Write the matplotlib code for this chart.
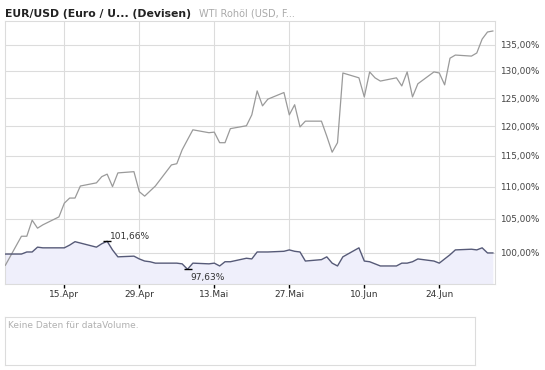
#!/usr/bin/env python3
# EUR/USD vs. WTI crude, relative performance (log scale), 3 months 2008.

import matplotlib
matplotlib.use("Agg")
import matplotlib.pyplot as plt
import matplotlib.dates as mdates
from matplotlib.ticker import FixedLocator, FixedFormatter, NullLocator
import pandas as pd

# trading days shown in the chart
dates = pd.bdate_range("2008-04-04", "2008-07-04")

# relative performance in percent
eur_usd = [
    99.8, 99.8, 100.1, 100.1, 100.8, 100.7, 100.7, 100.7, 101.1, 101.6,
    101.4, 100.8, 101.3, 101.66, 100.4, 99.4, 99.5, 99.1, 98.8,
    98.7, 98.5, 98.5, 98.5, 98.4, 97.63, 98.5, 98.4, 98.5, 98.1,
    98.7, 98.7, 99.2, 99.1, 100.1, 100.1, 100.1, 100.2, 100.4, 100.2,
    100.1, 98.8,
    99.0, 99.4, 98.5, 98.1, 99.4, 100.7, 98.8, 98.7, 98.4, 98.1,
    98.1, 98.5, 98.5, 98.7, 99.1, 98.8, 98.5, 99.1, 99.7, 100.4, 100.5,
    100.4, 100.7, 99.96, 99.96,
]
wti = [
    98.2, 102.4, 102.4, 104.8, 103.6, 104.1, 105.3, 107.4, 108.2, 108.2,
    110.1, 110.6, 111.6, 112.0, 110.0, 112.2, 112.4, 109.2, 108.5,
    109.3, 110.1, 113.5, 113.7, 116.0, 117.7, 119.4, 118.9, 119.0, 117.2,
    117.2, 119.6, 120.1, 122.0, 126.3, 123.6, 124.8, 126.0, 122.0, 123.8,
    119.9, 120.9,
    120.9, 118.3, 115.6, 117.2, 129.6, 128.7, 125.2, 129.8, 128.7, 128.1,
    128.7, 127.2, 129.8, 125.2, 127.6, 129.8, 129.6, 127.4, 132.4, 133.0,
    132.8,
    133.4, 136.1, 137.5, 137.7,
]

y_ticks = [100, 105, 110, 115, 120, 125, 130, 135]
y_labels = ["100,00%", "105,00%", "110,00%", "115,00%",
            "120,00%", "125,00%", "130,00%", "135,00%"]
x_ticks = ["2008-04-15", "2008-04-29", "2008-05-13",
           "2008-05-27", "2008-06-10", "2008-06-24"]
x_labels = ["15.Apr", "29.Apr", "13.Mai", "27.Mai", "10.Jun", "24.Jun"]

title_main = "EUR/USD (Euro / U... (Devisen)"
title_other = "WTI Rohöl (USD, F..."
no_volume = "Keine Daten für dataVolume."

W, H = 545, 370
GRID = "#dcdcdc"
FONT = "DejaVu Sans"

fig = plt.figure(figsize=(W / 100, H / 100), dpi=100)

# main price panel
ax = fig.add_axes([5 / W, 1 - 284 / H, 490 / W, 263 / H])
ax.set_yscale("log")
ax.set_ylim(95.58, 139.7)
x0 = mdates.date2num(pd.Timestamp("2008-04-15")) - 59.3 / 5.357
x1 = mdates.date2num(pd.Timestamp("2008-04-15")) + 430.7 / 5.357
ax.set_xlim(x0, x1)

xd = mdates.date2num(dates)
ax.fill_between(xd, eur_usd, 90, color="#efeffb", linewidth=0, zorder=1)
ax.plot(xd, wti, color="#9a9a9a", linewidth=0.9, zorder=3)
ax.plot(xd, eur_usd, color="#565a78", linewidth=1.0, zorder=4)

ax.yaxis.set_major_locator(FixedLocator(y_ticks))
ax.yaxis.set_major_formatter(FixedFormatter(y_labels))
ax.yaxis.set_minor_locator(NullLocator())
ax.yaxis.tick_right()
ax.tick_params(axis="y", length=0, pad=3.6, labelsize=6.4, labelcolor="#444444")

ax.xaxis.set_major_locator(FixedLocator(mdates.date2num(pd.to_datetime(x_ticks))))
ax.xaxis.set_major_formatter(FixedFormatter(x_labels))
ax.tick_params(axis="x", length=3, width=1, color="black", direction="out",
               pad=1.5, labelsize=6.5, labelcolor="#333333")

ax.grid(True, color=GRID, linewidth=0.8, zorder=0)
ax.set_axisbelow(True)
for s in ax.spines.values():
    s.set_color(GRID)
    s.set_linewidth(0.8)

for lab in ax.get_xticklabels() + ax.get_yticklabels():
    lab.set_family(FONT)

# max / min markers
i_max = max(range(len(eur_usd)), key=lambda i: eur_usd[i])
i_min = min(range(len(eur_usd)), key=lambda i: eur_usd[i])
for i, va, dy in ((i_max, "bottom", 0.5), (i_min, "top", -2.5)):
    ax.plot(xd[i], eur_usd[i], marker="_", markersize=6, markeredgewidth=1.0,
            color="black", zorder=5)
    ax.annotate(f"{eur_usd[i]:.2f}%".replace(".", ","), (xd[i], eur_usd[i]),
                xytext=(2, dy), textcoords="offset points", ha="left", va=va,
                fontsize=6.5, color="#333333", family=FONT, zorder=6)

# header
fig.text(5 / W, 1 - 17 / H, title_main, fontsize=7.8, fontweight="bold",
         color="#222222", family=FONT, ha="left", va="baseline")
fig.text(199 / W, 1 - 17 / H, title_other, fontsize=7, color="#aaaaaa",
         family=FONT, ha="left", va="baseline")

# empty volume panel
ax2 = fig.add_axes([5 / W, 1 - 365 / H, 470 / W, 48 / H])
ax2.set_xticks([])
ax2.set_yticks([])
for s in ax2.spines.values():
    s.set_color(GRID)
    s.set_linewidth(0.8)
ax2.text(3 / 470, 1 - 4 / 48, no_volume, transform=ax2.transAxes,
         ha="left", va="top", fontsize=6.5, color="#b0b0b0", family=FONT)

fig.savefig("out.png", dpi=100)
